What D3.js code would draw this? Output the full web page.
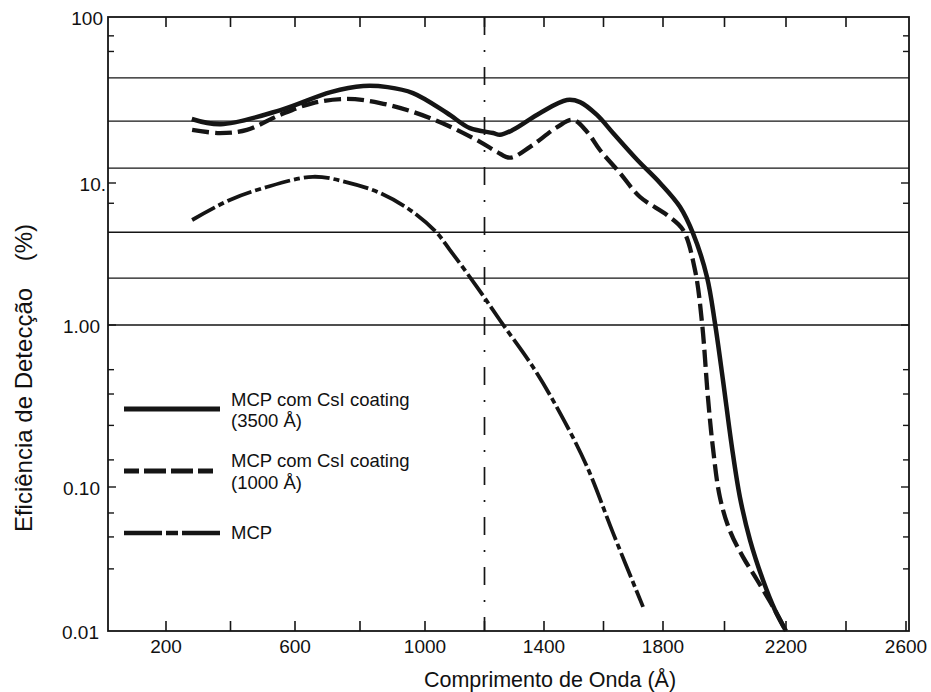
<!DOCTYPE html>
<html>
<head>
<meta charset="utf-8">
<script src="https://cdn.jsdelivr.net/npm/d3@7"></script>
<style>
  body { margin: 0; background: #fff; }
  text { font-family: Arial, "Liberation Sans", sans-serif; fill: #111; }
</style>
</head>
<body>
<div id="chart"></div>
<script>
// curve data (wavelength in Å, efficiency in %)
const wl3500 = [280, 370, 555, 710, 810, 885, 963, 1074, 1151, 1229, 1252, 1296, 1387, 1477, 1521, 1578, 1632, 1713, 1790, 1855, 1898, 1943, 1969, 1995, 2024, 2050, 2083, 2125, 2164, 2200];
const eff3500 = [24.3, 22.6, 27.5, 35.3, 38.4, 37.8, 34.8, 26.4, 21.4, 20.0, 19.5, 20.9, 26.4, 31.6, 30.7, 25.7, 20.0, 13.8, 10.0, 6.8, 4.4, 2.18, 1.03, 0.457, 0.177, 0.0853, 0.0428, 0.0226, 0.014, 0.01];

const wl1000 = [281, 367, 451, 553, 655, 760, 862, 963, 1074, 1185, 1242, 1286, 1353, 1444, 1497, 1545, 1588, 1655, 1722, 1813, 1865, 1904, 1927, 1946, 1962, 1985, 2017, 2060, 2106, 2158, 2200];
const eff1000 = [20.9, 20.0, 20.9, 25.7, 30.3, 32.1, 30.3, 26.8, 22.3, 17.7, 15.4, 14.2, 16.5, 21.7, 24.0, 20.3, 15.8, 11.5, 8.0, 5.95, 4.67, 2.44, 1.03, 0.36, 0.177, 0.085, 0.050, 0.0327, 0.0226, 0.0147, 0.01];

const wlMcp = [281, 398, 501, 655, 760, 862, 963, 1040, 1084, 1175, 1252, 1363, 1454, 1545, 1632, 1733];
const effMcp = [5.49, 7.6, 9.2, 10.9, 10.1, 8.5, 6.25, 4.45, 3.37, 1.85, 1.08, 0.55, 0.286, 0.133, 0.048, 0.0147];

const xMajor = [200, 600, 1000, 1400, 1800, 2200, 2600];
const xMinor = [400, 800, 1200, 1600, 2000, 2400];
const yMajor = [100, 10, 1, 0.1, 0.01];
const yLabels = ["100", "10.", "1.00", "0.10", "0.01"];
const yMinor = [77, 62, 7.2, 0.53, 0.375, 0.24, 0.147, 0.066, 0.045, 0.027];
const gridValues = [43, 23.6, 12.3, 4.5, 2.14, 1];
const markerWl = 1200;

const legendLabels = [
  ["MCP com CsI coating", "(3500 Å)"],
  ["MCP com CsI coating", "(1000 Å)"],
  ["MCP"]
];

const width = 931, height = 692;
const plotLeft = 108, plotRight = 909, plotTop = 17, plotBottom = 631;

// the scan is a bit uneven, so the scales are piecewise
const x = d3.scaleLinear()
  .domain([200, 600, 1000, 1400, 1800, 2200, 2600])
  .range([166, 295, 425, 544, 663, 786, 906]);
const y = d3.scaleLog()
  .domain([0.01, 0.1, 1, 10, 100])
  .range([plotBottom, 487, 325, 183, plotTop]);

const svg = d3.select("#chart").append("svg")
  .attr("width", width)
  .attr("height", height);

const ink = "#151515";

// horizontal grid lines
svg.selectAll(".grid")
  .data(gridValues)
  .join("line")
  .attr("class", "grid")
  .attr("x1", plotLeft).attr("x2", plotRight)
  .attr("y1", d => y(d)).attr("y2", d => y(d))
  .attr("stroke", ink).attr("stroke-width", 1.4);

// vertical dash-dot marker
svg.append("line")
  .attr("x1", x(markerWl)).attr("x2", x(markerWl))
  .attr("y1", plotTop).attr("y2", plotBottom)
  .attr("stroke", ink).attr("stroke-width", 1.7)
  .attr("stroke-dasharray", "18,15,2,15");

// frame
svg.append("rect")
  .attr("x", plotLeft).attr("y", plotTop)
  .attr("width", plotRight - plotLeft).attr("height", plotBottom - plotTop)
  .attr("fill", "none").attr("stroke", ink).attr("stroke-width", 1.8);

// x ticks (bottom up, top down)
const xTicks = xMajor.concat(xMinor);
svg.selectAll(".xtb")
  .data(xTicks)
  .join("line")
  .attr("class", "xtb")
  .attr("x1", d => x(d)).attr("x2", d => x(d))
  .attr("y1", plotBottom).attr("y2", plotBottom - 10)
  .attr("stroke", ink).attr("stroke-width", 1.6);
svg.selectAll(".xtt")
  .data(xTicks.filter(d => d < 2600))
  .join("line")
  .attr("class", "xtt")
  .attr("x1", d => x(d)).attr("x2", d => x(d))
  .attr("y1", plotTop).attr("y2", plotTop + 10)
  .attr("stroke", ink).attr("stroke-width", 1.6);

svg.selectAll(".xlab")
  .data(xMajor)
  .join("text")
  .attr("class", "xlab")
  .attr("x", d => x(d))
  .attr("y", 653)
  .attr("text-anchor", "middle")
  .attr("font-size", "19px")
  .text(d => d);

// y ticks on both sides
const yTicks = yMajor.slice(1, 4).map(d => ({ v: d, len: 8 }))
  .concat(yMinor.map(d => ({ v: d, len: 6 })));
svg.selectAll(".ytl")
  .data(yTicks)
  .join("line")
  .attr("class", "ytl")
  .attr("x1", plotLeft).attr("x2", d => plotLeft + d.len)
  .attr("y1", d => y(d.v)).attr("y2", d => y(d.v))
  .attr("stroke", ink).attr("stroke-width", 1.4);
svg.selectAll(".ytr")
  .data(yTicks)
  .join("line")
  .attr("class", "ytr")
  .attr("x1", plotRight).attr("x2", d => plotRight - d.len)
  .attr("y1", d => y(d.v)).attr("y2", d => y(d.v))
  .attr("stroke", ink).attr("stroke-width", 1.4);

const yLabelRight = [103, 106, 100, 100, 99];
svg.selectAll(".ylab")
  .data(yMajor)
  .join("text")
  .attr("class", "ylab")
  .attr("x", (d, i) => yLabelRight[i])
  .attr("y", d => y(d))
  .attr("dy", "0.4em")
  .attr("text-anchor", "end")
  .attr("font-size", "19px")
  .text((d, i) => yLabels[i]);

// axis titles
svg.append("text")
  .attr("x", 550).attr("y", 687)
  .attr("text-anchor", "middle")
  .attr("font-size", "21.5px")
  .text("Comprimento de Onda (Å)");

svg.append("text")
  .attr("transform", "translate(32,378) rotate(-90)")
  .attr("text-anchor", "middle")
  .attr("font-size", "24px")
  .style("white-space", "pre")
  .text("Eficiência de Detecção    (%)");

// curves
const series = [
  { wl: wl3500, eff: eff3500, dash: null, w: 4.5 },
  { wl: wl1000, eff: eff1000, dash: "17,6", w: 4.3 },
  { wl: wlMcp, eff: effMcp, dash: "26,4,6,4", w: 3.8 }
];

const line = d3.line()
  .x(d => x(d[0]))
  .y(d => y(d[1]))
  .curve(d3.curveCatmullRom.alpha(0.5));

svg.selectAll(".curve")
  .data(series)
  .join("path")
  .attr("class", "curve")
  .attr("d", s => line(s.wl.map((w, i) => [w, s.eff[i]])))
  .attr("fill", "none")
  .attr("stroke", ink)
  .attr("stroke-width", s => s.w)
  .attr("stroke-dasharray", s => s.dash);

// legend
const legend = svg.append("g");
const legendY = [409, 471, 533];
const legendBase = [[406, 427], [467, 489], [539]];
legendLabels.forEach((lab, i) => {
  legend.append("line")
    .attr("x1", 124).attr("x2", 220)
    .attr("y1", legendY[i]).attr("y2", legendY[i])
    .attr("stroke", ink)
    .attr("stroke-width", series[i].w + 0.5)
    .attr("stroke-dasharray", i === 1 ? "15,5,22,5,22,5,15" : i === 2 ? "38,4,12,4,40" : null);
  lab.forEach((t, j) => {
    legend.append("text")
      .attr("x", 231)
      .attr("y", legendBase[i][j])
      .attr("font-size", "18.5px")
      .text(t);
  });
});
</script>
</body>
</html>
